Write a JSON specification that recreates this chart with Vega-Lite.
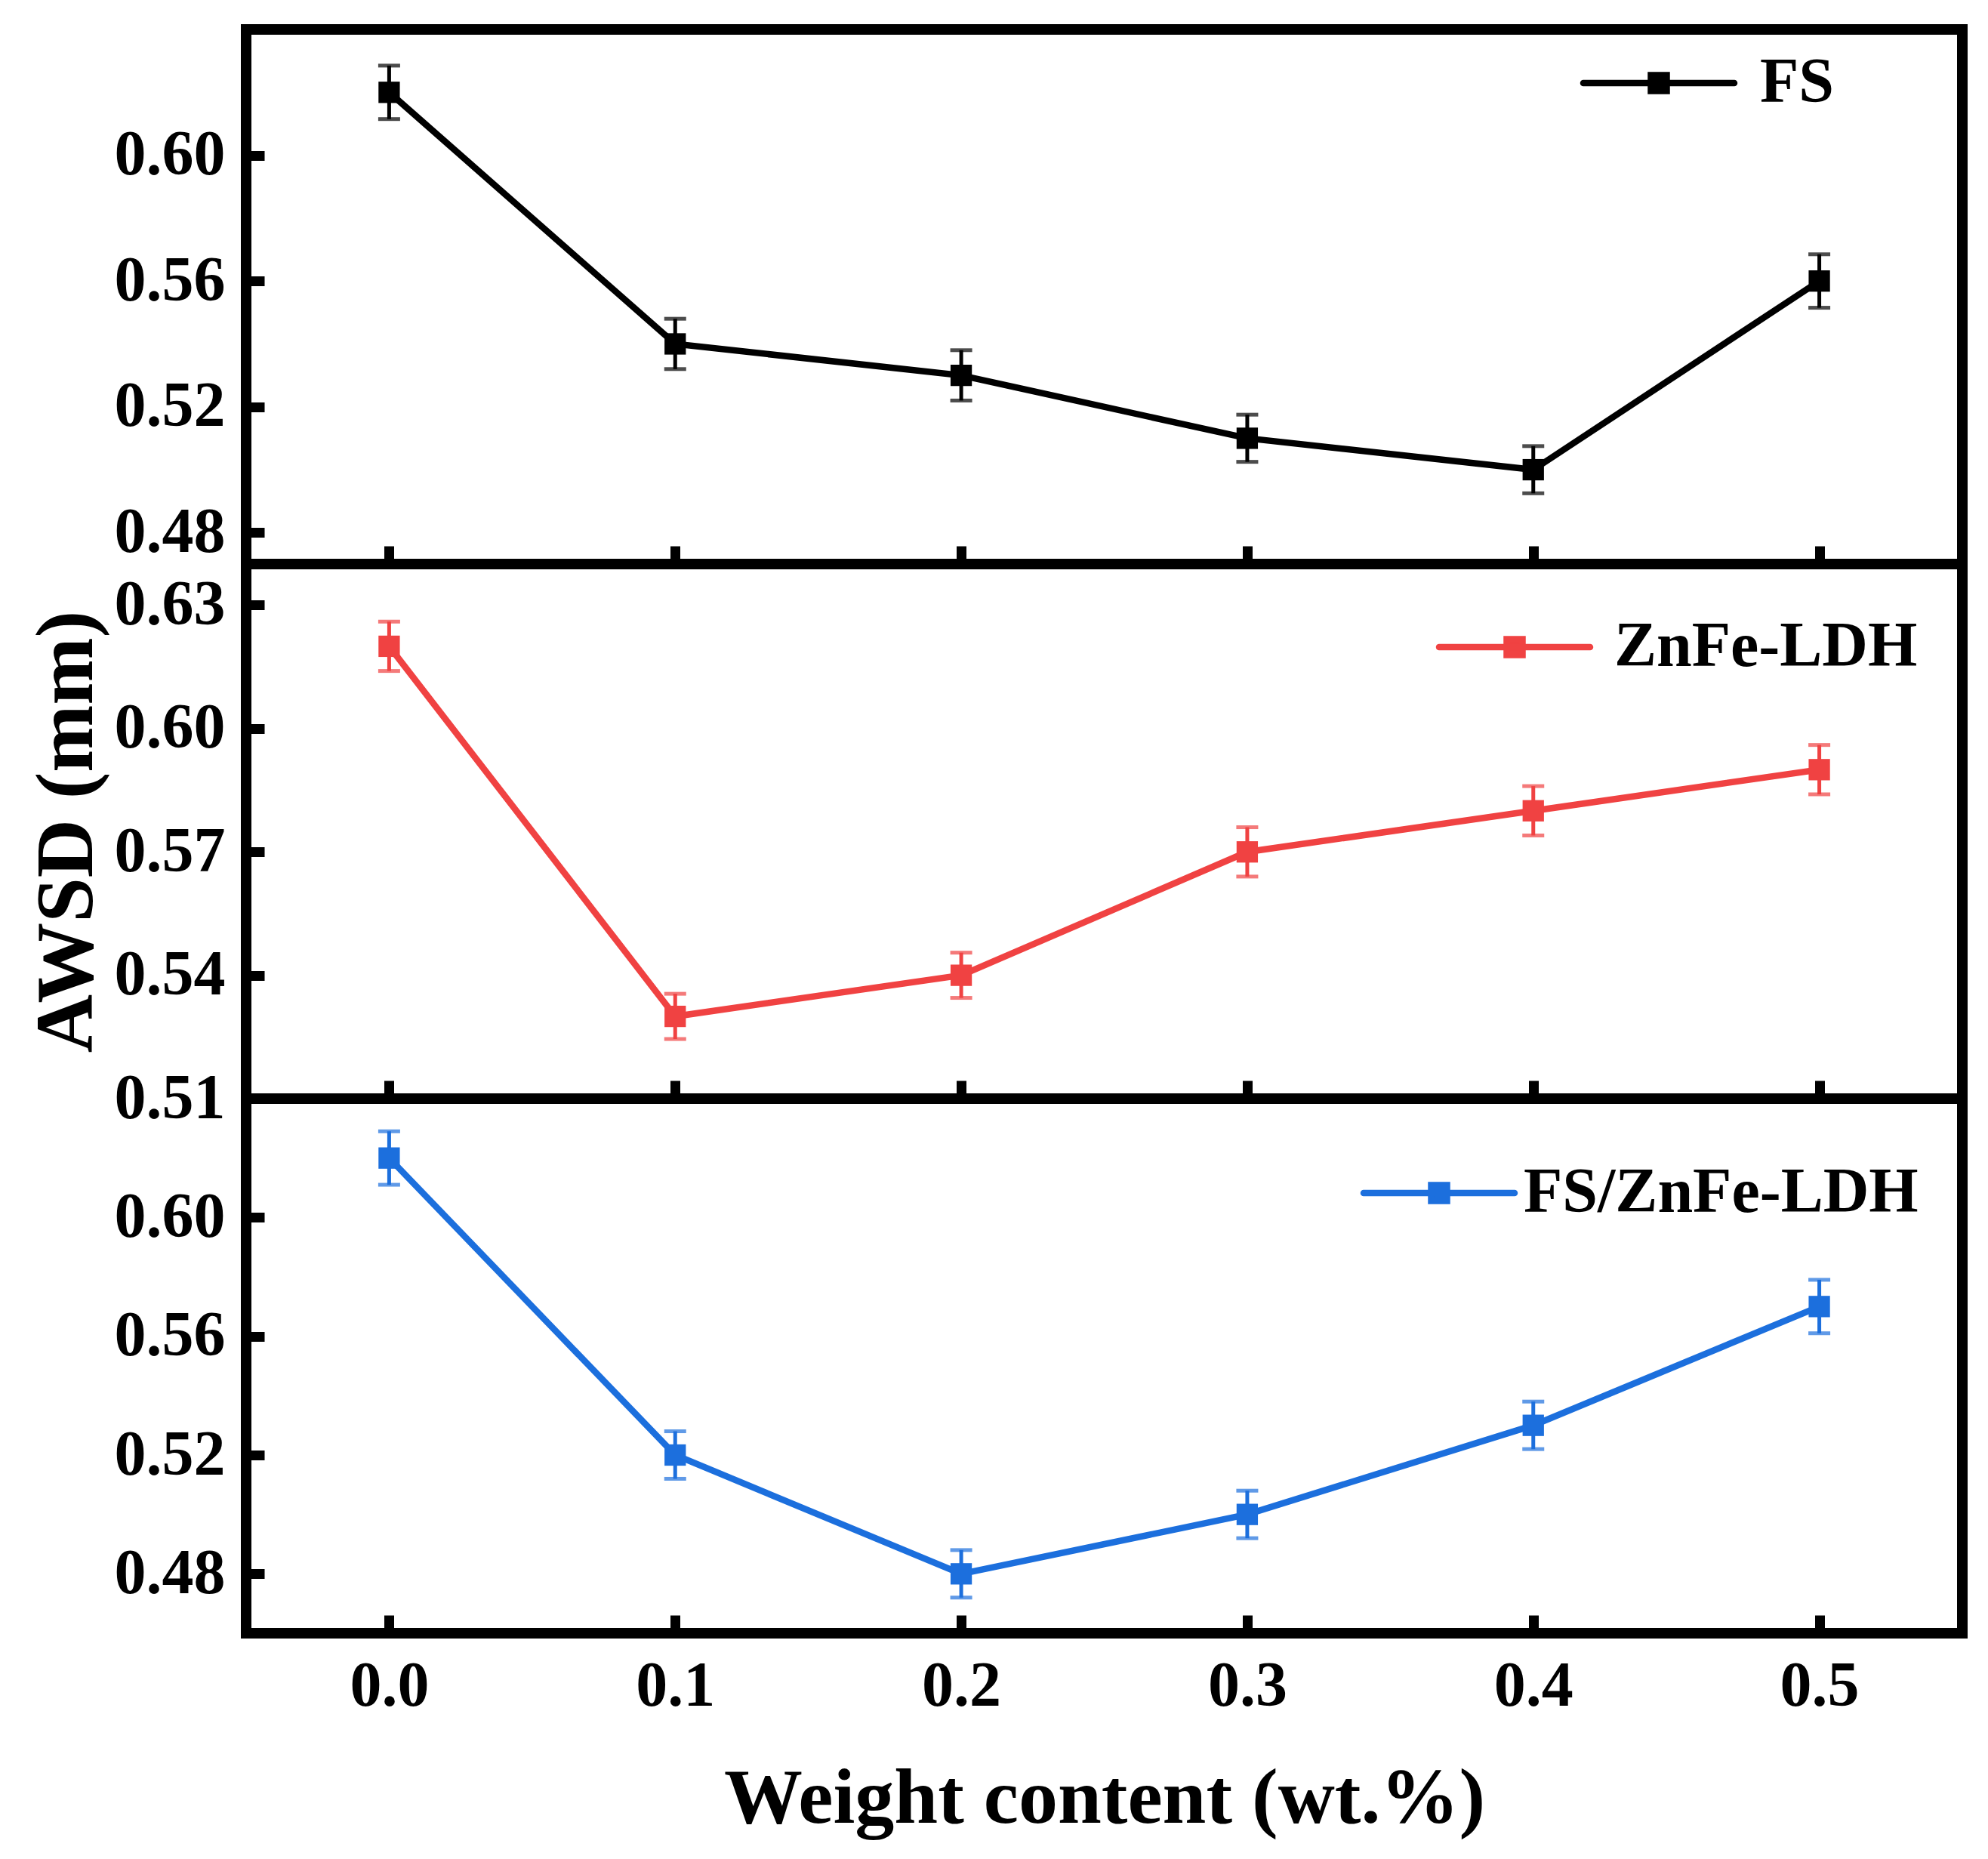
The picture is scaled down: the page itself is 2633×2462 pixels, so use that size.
{
  "$schema": "https://vega.github.io/schema/vega-lite/v6.json",
  "background": "white",
  "autosize": {"type": "pad"},
  "padding": {"left": 28, "top": 32, "right": 10, "bottom": 10},
  "datasets": {
    "fs": [
      {"series": "FS", "x": 0.0, "y": 0.62, "err": 0.0085},
      {"series": "FS", "x": 0.1, "y": 0.54, "err": 0.008},
      {"series": "FS", "x": 0.2, "y": 0.53, "err": 0.008},
      {"series": "FS", "x": 0.3, "y": 0.51, "err": 0.0075},
      {"series": "FS", "x": 0.4, "y": 0.50, "err": 0.0075},
      {"series": "FS", "x": 0.5, "y": 0.56, "err": 0.0085}
    ],
    "ldh": [
      {"series": "ZnFe-LDH", "x": 0.0, "y": 0.62, "err": 0.006},
      {"series": "ZnFe-LDH", "x": 0.1, "y": 0.53, "err": 0.0055},
      {"series": "ZnFe-LDH", "x": 0.2, "y": 0.54, "err": 0.0055},
      {"series": "ZnFe-LDH", "x": 0.3, "y": 0.57, "err": 0.006},
      {"series": "ZnFe-LDH", "x": 0.4, "y": 0.58, "err": 0.006},
      {"series": "ZnFe-LDH", "x": 0.5, "y": 0.59, "err": 0.006}
    ],
    "both": [
      {"series": "FS/ZnFe-LDH", "x": 0.0, "y": 0.62, "err": 0.009},
      {"series": "FS/ZnFe-LDH", "x": 0.1, "y": 0.52, "err": 0.008},
      {"series": "FS/ZnFe-LDH", "x": 0.2, "y": 0.48, "err": 0.008},
      {"series": "FS/ZnFe-LDH", "x": 0.3, "y": 0.50, "err": 0.008},
      {"series": "FS/ZnFe-LDH", "x": 0.4, "y": 0.53, "err": 0.008},
      {"series": "FS/ZnFe-LDH", "x": 0.5, "y": 0.57, "err": 0.009}
    ]
  },
  "spacing": 0,
  "bounds": "flush",
  "resolve": {"scale": {"color": "independent"}, "legend": {"color": "independent"}},
  "vconcat": [
    {
      "width": 2273,
      "height": 708,
      "data": {"name": "fs"},
      "encoding": {
        "x": {"field": "x", "type": "quantitative", "scale": {"domain": [-0.05, 0.55], "nice": false, "zero": false},
              "axis": {"values": [0, 0.1, 0.2, 0.3, 0.4, 0.5], "labels": false, "title": null}},
        "y": {"field": "y", "type": "quantitative", "scale": {"domain": [0.47, 0.64], "nice": false, "zero": false},
              "axis": {"values": [0.48, 0.52, 0.56, 0.60], "format": ".2f", "title": null}},
        "color": {"field": "series", "type": "nominal", "scale": {"domain": ["FS"], "range": ["#000000"]},
                  "legend": {"orient": "none", "legendX": 1829, "legendY": 29, "labelOffset": 92,
                             "encode": {"symbols": {"update": {"fill": {"value": "#000000"}, "stroke": {"value": "#000000"}, "strokeCap": {"value": "round"}}}}}}
      },
      "layer": [
        {"mark": {"type": "line", "strokeWidth": 8.5}},
        {"mark": {"type": "errorbar", "ticks": {"size": 29, "thickness": 5}, "thickness": 5}, "encoding": {"yError": {"field": "err"}}},
        {"mark": {"type": "point", "shape": "square", "filled": true, "size": 800, "opacity": 1}}
      ]
    },
    {
      "width": 2273,
      "height": 708,
      "data": {"name": "ldh"},
      "encoding": {
        "x": {"field": "x", "type": "quantitative", "scale": {"domain": [-0.05, 0.55], "nice": false, "zero": false},
              "axis": {"values": [0, 0.1, 0.2, 0.3, 0.4, 0.5], "labels": false, "title": null}},
        "y": {"field": "y", "type": "quantitative", "scale": {"domain": [0.51, 0.64], "nice": false, "zero": false},
              "axis": {"values": [0.51, 0.54, 0.57, 0.60, 0.63], "format": ".2f", "title": "AWSD (mm)"}},
        "color": {"field": "series", "type": "nominal", "scale": {"domain": ["ZnFe-LDH"], "range": ["#F04242"]},
                  "legend": {"orient": "none", "legendX": 1638, "legendY": 68, "labelOffset": 90,
                             "encode": {"symbols": {"update": {"fill": {"value": "#F04242"}, "stroke": {"value": "#F04242"}, "strokeCap": {"value": "round"}}}}}}
      },
      "layer": [
        {"mark": {"type": "line", "strokeWidth": 8.5}},
        {"mark": {"type": "errorbar", "ticks": {"size": 29, "thickness": 5}, "thickness": 5}, "encoding": {"yError": {"field": "err"}}},
        {"mark": {"type": "point", "shape": "square", "filled": true, "size": 800, "opacity": 1}}
      ]
    },
    {
      "width": 2273,
      "height": 708,
      "data": {"name": "both"},
      "encoding": {
        "x": {"field": "x", "type": "quantitative", "scale": {"domain": [-0.05, 0.55], "nice": false, "zero": false},
              "axis": {"values": [0, 0.1, 0.2, 0.3, 0.4, 0.5], "format": ".1f", "title": "Weight content (wt.%)"}},
        "y": {"field": "y", "type": "quantitative", "scale": {"domain": [0.46, 0.64], "nice": false, "zero": false},
              "axis": {"values": [0.48, 0.52, 0.56, 0.60], "format": ".2f", "title": null}},
        "color": {"field": "series", "type": "nominal", "scale": {"domain": ["FS/ZnFe-LDH"], "range": ["#1C6FDD"]},
                  "legend": {"orient": "none", "legendX": 1538, "legendY": 83, "labelOffset": 70,
                             "encode": {"symbols": {"update": {"fill": {"value": "#1C6FDD"}, "stroke": {"value": "#1C6FDD"}, "strokeCap": {"value": "round"}}}}}}
      },
      "layer": [
        {"mark": {"type": "line", "strokeWidth": 8.5}},
        {"mark": {"type": "errorbar", "ticks": {"size": 29, "thickness": 5}, "thickness": 5}, "encoding": {"yError": {"field": "err"}}},
        {"mark": {"type": "point", "shape": "square", "filled": true, "size": 800, "opacity": 1}}
      ]
    }
  ],
  "config": {
    "view": {"stroke": "#000000", "strokeWidth": 14},
    "font": "Liberation Serif",
    "axis": {
      "labelFont": "Liberation Serif",
      "labelFontWeight": "bold",
      "labelFontSize": 84,
      "labelColor": "#000000",
      "titleFont": "Liberation Serif",
      "titleFontWeight": "bold",
      "titleFontSize": 104,
      "titleColor": "#000000",
      "domain": false,
      "grid": false,
      "tickColor": "#000000",
      "tickWidth": 13,
      "tickSize": -24
    },
    "axisX": {"labelPadding": 53, "titlePadding": 56},
    "axisY": {"labelPadding": 52, "titlePadding": 8, "titleFontSize": 107},
    "legend": {
      "title": null,
      "padding": 0,
      "symbolType": "M-4,0L4,0M-0.42,-0.42L0.42,-0.42L0.42,0.42L-0.42,0.42Z",
      "symbolSize": 2500,
      "symbolStrokeWidth": 8.5,
      "labelFont": "Liberation Serif",
      "labelFontWeight": "bold",
      "labelFontSize": 84,
      "labelColor": "#000000",
      "labelLimit": 1000
    }
  }
}
